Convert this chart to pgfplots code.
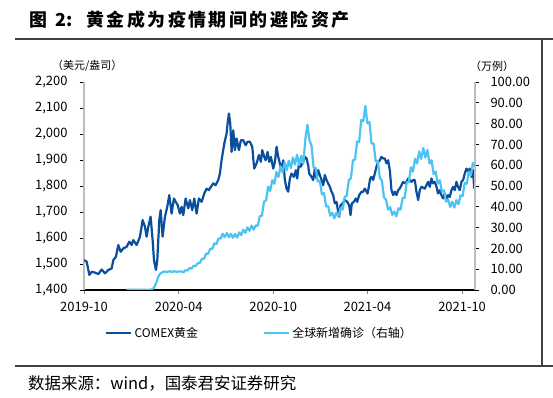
\documentclass[border=0pt]{standalone}
\usepackage{fontspec}
\setmainfont{Noto Sans CJK SC}
\usepackage{pgfplots}
\pgfplotsset{compat=1.18}
\definecolor{goldc}{RGB}{11,78,156}
\definecolor{casec}{RGB}{77,195,242}
\definecolor{framec}{RGB}{64,64,64}
\definecolor{axgray}{RGB}{190,190,190}
\begin{document}
\begin{tikzpicture}
\useasboundingbox (0bp,0bp) rectangle (553bp,398bp);
\draw[framec, line width=1.3bp] (15bp,359bp) -- (553bp,359bp);
\draw[framec, line width=1.3bp] (15bp,32bp) -- (553bp,32bp);
\draw[framec, line width=1.3bp] (542bp,359bp) -- (542bp,32bp);
\node[anchor=west, inner sep=0pt, font=\fontsize{18}{20}\selectfont\bfseries] at (29bp,378bp) {图\hspace{8bp}2:\hspace{14bp}\addfontfeature{LetterSpace=14}黄金成为疫情期间的避险资产};
\node[anchor=west, inner sep=0pt, font=\fontsize{16.5}{18}\selectfont] at (28bp,15bp) {数据来源：wind，国泰君安证券研究};
\node[anchor=west, inner sep=0pt, font=\fontsize{11}{12}\selectfont] at (52bp,332bp) {（美元/盎司）};
\node[anchor=west, inner sep=0pt, font=\fontsize{11}{12}\selectfont] at (470bp,332bp) {（万例）};

\begin{axis}[
  at={(84bp,108bp)}, anchor=south west, scale only axis,
  width=391bp, height=208bp,
  xmin=0, xmax=756, ymin=1400, ymax=2200,
  axis y line*=left, axis x line*=bottom,
  ytick={1400,1500,...,2200},
  xtick={0,183,366,548,731},
  xticklabels={2019-10,2020-04,2020-10,2021-04,2021-10},
  tick align=outside, major tick length=4bp,
  y axis line style={axgray, line width=1.3bp},
  x axis line style={black, line width=1.2bp},
  ytick style={black, line width=0.8bp},
  xtick style={gray, line width=0.8bp},
  ticklabel style={font=\fontsize{13}{14}\selectfont},
  yticklabel style={xshift=-9bp},
  xticklabel style={yshift=-5bp},
  /pgf/number format/.cd, 1000 sep={,}, assume math mode=true,
]
\addplot[goldc, line width=2.2bp, line join=round, mark=none] coordinates {
(0,1515)(5.2,1509)(10.3,1458)(14.8,1470)(21.3,1467)(27.7,1461)(34.1,1479)(40.6,1464)(47,1477)(53.5,1483)
(56.7,1515)(61.8,1528)(66.3,1573)(70.9,1547)(76,1560)(82.4,1566)(87.6,1586)(92.1,1573)(95.3,1592)(101.8,1573)
(108.2,1605)(113.4,1669)(117.9,1643)(121.1,1605)(124.3,1643)(128.8,1682)(132.7,1592)(135.3,1515)(139.1,1477)(141.7,1515)
(145.6,1669)(148.2,1707)(152,1605)(156.5,1682)(161,1720)(164.9,1765)(169.4,1694)(173.9,1752)
(177,1740)(181,1727)(185.5,1694)(188.7,1720)(191.9,1688)(196.5,1752)(201.6,1714)(204.8,1746)(209.3,1707)(213.2,1752)
(217.7,1694)(222.2,1752)(227.4,1739)(232.5,1771)(237,1790)(241.5,1784)(245.4,1797)(249.9,1810)(254.4,1803)(259.6,1823)
(262.8,1848)(266,1899)(271.2,1963)(275.7,2002)(277.6,2040)(280.2,2079)(282.8,2040)(285.4,1931)(288.6,2014)(291.8,1938)
(295,1983)(299.5,1938)(303.4,1976)(307.9,1976)(312.4,1957)(316.3,1970)(320.8,1970)(325.3,1951)(329.1,1867)(333.7,1887)
(338.2,1919)(342,1893)(344.6,1938)(348.5,1912)(351.1,1899)(354.9,1931)(358.1,1893)(361.4,1912)(365.9,1867)(369.1,1893)
(372.3,1951)(375.5,1912)(378.7,1887)(382,1861)(385.2,1899)(388.4,1823)(391.6,1790)(394.8,1778)(398.1,1829)(401.3,1848)
(405.8,1835)(409.7,1861)(412.2,1829)(416.1,1893)(418.7,1874)(422.6,1887)(427.1,1912)(430.3,1906)(433.5,1880)(435.4,1848)
(440,1835)(443.2,1823)(446.4,1867)(449.6,1829)(452.8,1861)(456,1842)(459.3,1823)(462.5,1803)(465.7,1842)(468.9,1823)
(472.1,1810)(475.4,1797)(478.6,1778)(481.8,1765)(485,1733)(488.2,1739)(491.5,1701)(493.4,1682)(496,1726)(499.9,1733)
(504.3,1746)(508.9,1739)(512.7,1726)(515.3,1688)(517.9,1733)(521.7,1739)(525.6,1752)(528.2,1739)(532.1,1765)(536.6,1778)
(539.8,1778)(543,1790)(548.2,1771)(550.7,1797)(553.3,1829)(555.9,1835)(559.1,1823)(562.3,1848)(565.5,1874)(568.8,1893)
(572,1899)(575.2,1912)(578.4,1906)(581.6,1906)(584.9,1887)(588.1,1899)(591.3,1861)(594.5,1784)(597.7,1765)(601,1778)
(604.2,1765)(607.4,1784)(610.6,1790)(613.8,1803)(617.1,1816)(620.3,1810)(623.5,1816)(626.7,1829)(633.2,1816)(636.4,1823)
(639.6,1823)(642.8,1778)(646.1,1746)(649.3,1784)(652.5,1797)(658.9,1790)(662.2,1803)(665.4,1816)(668.6,1797)(671.8,1829)
(675,1810)(678.3,1816)(681.5,1797)(684.7,1771)(687.9,1784)(691.1,1765)(694.4,1752)(697.6,1771)(700.8,1746)(704,1765)
(707.2,1758)(710.5,1784)(713.7,1797)(716.9,1784)(720.1,1816)(723.3,1797)(726.6,1784)(729.8,1816)(733,1823)(736.2,1848)
(739.5,1867)(742.7,1855)(745.9,1867)(749.1,1835)(752.4,1861)(754.3,1790)
};
\end{axis}

\begin{axis}[
  at={(84bp,108bp)}, anchor=south west, scale only axis,
  width=391bp, height=208bp,
  xmin=0, xmax=756, ymin=0, ymax=100,
  axis y line*=right, axis x line=none,
  ytick={0,10,...,100},
  tick align=outside, major tick length=4bp,
  y axis line style={axgray, line width=1.3bp},
  ytick style={black, line width=0.8bp},
  ticklabel style={font=\fontsize{13}{14}\selectfont},
  yticklabel style={xshift=8bp, /pgf/number format/.cd, fixed, fixed zerofill, precision=2, assume math mode=true},
  legend columns=2,
  legend style={at={(0.054,-0.207)}, anchor=west, draw=none, fill=none,
    font=\fontsize{12}{13}\selectfont, inner sep=0pt,
    /tikz/every even column/.append style={column sep=63bp}},
  legend image code/.code={\draw[#1] (0bp,0bp) -- (25bp,0bp);},
]
\addlegendimage{goldc, line width=2.2bp}
\addlegendentry{COMEX黄金}
\addplot[casec, line width=2.2bp, line join=round, mark=none] coordinates {
(82,0.1)(95,0.2)(110,0.1)(125,0.1)(131,0.3)(135,1)(138,2.5)(141,4.5)(144,6.5)(147,7.8)
(152,8.6)(156,8.9)(160,8.6)(165,9.0)(170,8.7)(175,9.0)(180,8.7)(184,8.9)
(188,9.0)(192,8.4)(196,9.5)(200,9.3)(204,10.6)(208,10.3)(212,11.7)(216,11.5)(220,13.0)(224,13.0)
(228,15.0)(232,15.0)(236,17.4)(240,17.4)(244,19.9)(248,19.7)(252,22.4)(256,22.0)(260,24.8)(264,24.7)
(268,27.1)(272,25.4)(276,27.4)(280,25.3)(284,27.0)(288,25.1)(292,26.9)(296,25.2)(300,27.7)(304,26.4)
(308,29.0)(312,27.5)(316,30.1)(320,28.5)(324,31.0)(328,29.0)(332,31.0)(336,30.9)(340,35.5)(344,35.7)
(348,42.4)(352,43.1)(356,49.7)(360,47.6)(364,52.8)(368,51.1)(372,56.7)(376,54.3)(380,59.5)(384,56.5)
(388,61.3)(392,57.6)(396,62.2)(400,58.6)(404,63.7)(408,60.3)(412,65.0)(416,60.1)(420,64.5)(424,60.8)
(428,72.5)(432,79.5)(436,72.0)(440,69.3)(444,58.7)(448,58.7)(452,52.1)(456,52.5)(460,46.0)(464,46.6)
(468,40.2)(472,40.4)(476,35.7)(480,37.2)(484,34.4)(488,37.2)(492,35.3)(496,39.3)(500,38.6)(504,44.8)
(508,45.4)(512,52.8)(516,53.7)(520,62.4)(524,62.7)(528,71.4)(532,71.1)(536,81.8)(540,81.1)(544,88.5)
(548,80.1)(552,80.7)(556,70.4)(560,70.4)(564,61.8)(568,62.1)(572,54.0)(576,52.5)(580,44.4)(584,43.5)
(588,38.6)(592,39.8)(596,36.0)(600,37.7)(604,35.4)(608,39.3)(612,38.6)(616,44.2)(620,44.4)(624,51.8)
(628,51.8)(632,59.0)(636,56.9)(640,63.1)(644,60.8)(648,66.6)(652,63.0)(656,68.3)(660,63.7)(664,67.3)
(668,60.8)(672,62.4)(676,55.7)(680,56.9)(684,51.1)(688,52.8)(692,47.3)(696,47.9)(700,42.5)(704,43.5)
(708,39.9)(712,42.4)(716,39.6)(720,43.2)(724,41.2)(728,45.5)(732,45.1)(736,51.4)(740,51.1)(744,56.9)
(748,55.0)(752,61.1)(755,59.5)
};
\addlegendentry{全球新增确诊（右轴）}
\end{axis}
\end{tikzpicture}
\end{document}
